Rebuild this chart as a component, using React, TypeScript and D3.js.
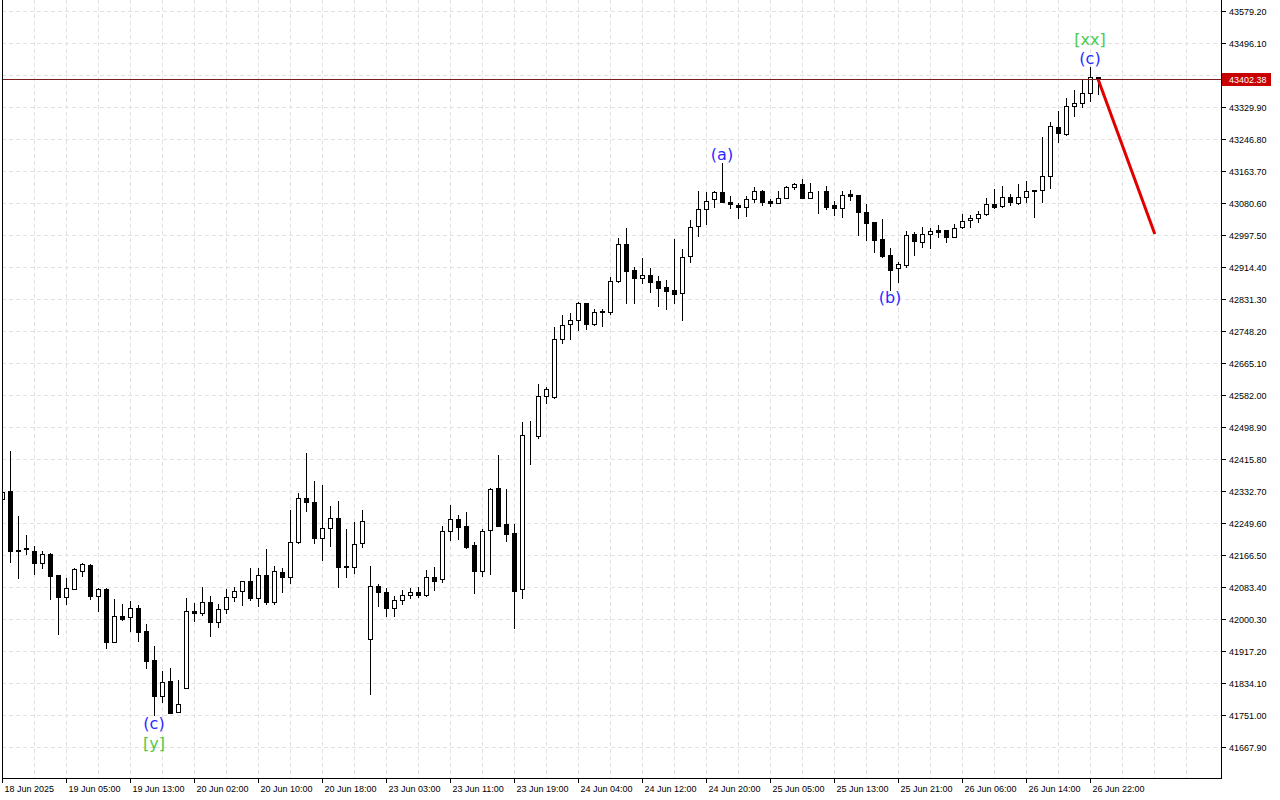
import React from "react";
import * as d3 from "d3";

// hourly bars, one label every 8 bars
const timeLabels = [
  "18 Jun 2025", "19 Jun 05:00", "19 Jun 13:00", "20 Jun 02:00", "20 Jun 10:00",
  "20 Jun 18:00", "23 Jun 03:00", "23 Jun 11:00", "23 Jun 19:00", "24 Jun 04:00",
  "24 Jun 12:00", "24 Jun 20:00", "25 Jun 05:00", "25 Jun 13:00", "25 Jun 21:00",
  "26 Jun 06:00", "26 Jun 14:00", "26 Jun 22:00",
];

const priceTicks = [
  41667.9, 41751.0, 41834.1, 41917.2, 42000.3, 42083.4, 42166.5, 42249.6,
  42332.7, 42415.8, 42498.9, 42582.0, 42665.1, 42748.2, 42831.3, 42914.4,
  42997.5, 43080.6, 43163.7, 43246.8, 43329.9, 43412.9, 43496.1, 43579.2,
];

const opens = [
  42311, 42333, 42179, 42185, 42177, 42145, 42170, 42115, 42057, 42078,
  42126, 42141, 42061, 42078, 41941, 42008, 42005, 42028, 41969, 41894,
  41801, 41839, 41760, 41822, 42021, 42015, 42044, 41992, 42025, 42058,
  42073, 42098, 42056, 42114, 42045, 42122, 42109, 42201, 42314, 42303,
  42210, 42236, 42262, 42137, 42135, 42197, 41948, 42085, 42071, 42028,
  42049, 42062, 42070, 42063, 42109, 42103, 42230, 42259, 42242, 42192,
  42126, 42231, 42340, 42247, 42223, 42077, 42478, 42475, 42580, 42576,
  42727, 42766, 42777, 42820, 42767, 42801, 42797, 42877, 42973, 42907,
  42885, 42894, 42878, 42862, 42855, 42846, 42942, 43021, 43064, 43090,
  43110, 43083, 43076, 43069, 43090, 43113, 43085, 43081, 43094, 43121,
  43129, 43094, 43109, 43112, 43075, 43067, 43104, 43101, 43056, 43030,
  42987, 42946, 42911, 42920, 42999, 42979, 42999, 43010, 43010, 42993,
  43018, 43036, 43041, 43051, 43077, 43072, 43097, 43080, 43095, 43114,
  43114, 43151, 43279, 43260, 43332, 43340, 43365, 43407,
];

const highs = [
  42338, 42437, 42268, 42218, 42190, 42177, 42172, 42115, 42106, 42132,
  42147, 42142, 42082, 42080, 42052, 42039, 42047, 42037, 41987, 41930,
  41865, 41872, 41842, 42054, 42041, 42083, 42060, 42038, 42078, 42083,
  42099, 42134, 42134, 42181, 42137, 42133, 42283, 42327, 42431, 42359,
  42348, 42294, 42307, 42234, 42251, 42283, 42138, 42090, 42080, 42060,
  42076, 42081, 42083, 42128, 42135, 42242, 42296, 42270, 42278, 42201,
  42234, 42340, 42426, 42338, 42246, 42511, 42514, 42611, 42604, 42758,
  42790, 42794, 42824, 42821, 42805, 42805, 42889, 42989, 43015, 42915,
  42937, 42911, 42891, 42881, 42987, 42961, 43036, 43112, 43108, 43111,
  43184, 43100, 43080, 43099, 43123, 43114, 43090, 43112, 43125, 43133,
  43142, 43132, 43113, 43125, 43087, 43113, 43114, 43102, 43078, 43031,
  43038, 42965, 42928, 43008, 43006, 43019, 43015, 43023, 43011, 43025,
  43052, 43049, 43060, 43093, 43117, 43125, 43103, 43129, 43139, 43115,
  43251, 43292, 43320, 43352, 43374, 43402, 43433, 43409,
];

const lows = [
  42307, 42148, 42108, 42170, 42118, 42134, 42052, 41962, 42039, 42077,
  42113, 42052, 42022, 41926, 41940, 41999, 41970, 41944, 41874, 41751,
  41786, 41755, 41759, 41821, 41996, 42011, 41957, 41980, 42015, 42048,
  42037, 42049, 42035, 42040, 42040, 42071, 42093, 42198, 42282, 42198,
  42154, 42191, 42084, 42109, 42119, 42186, 41805, 42035, 42009, 42009,
  42040, 42054, 42058, 42061, 42076, 42097, 42205, 42208, 42185, 42069,
  42113, 42117, 42242, 42204, 41976, 42054, 42402, 42470, 42562, 42575,
  42716, 42727, 42751, 42753, 42765, 42762, 42792, 42876, 42820, 42820,
  42874, 42850, 42814, 42805, 42821, 42778, 42928, 42994, 43027, 43071,
  43082, 43068, 43042, 43048, 43084, 43076, 43074, 43080, 43093, 43116,
  43093, 43093, 43054, 43064, 43049, 43045, 43088, 42998, 42985, 42954,
  42941, 42855, 42876, 42915, 42946, 42967, 42965, 42993, 42980, 42992,
  43015, 43018, 43030, 43050, 43068, 43071, 43075, 43078, 43082, 43045,
  43082, 43120, 43240, 43257, 43307, 43331, 43345, 43363,
];

const closes = [
  42331, 42177, 42176, 42181, 42145, 42169, 42113, 42058, 42080, 42130,
  42143, 42061, 42078, 41941, 42007, 42001, 42028, 41967, 41891, 41801,
  41836, 41757, 41780, 42021, 42015, 42044, 41992, 42025, 42058, 42073,
  42098, 42056, 42114, 42045, 42124, 42110, 42201, 42314, 42305, 42211,
  42236, 42262, 42136, 42135, 42194, 42254, 42085, 42071, 42028, 42049,
  42062, 42070, 42063, 42109, 42100, 42230, 42259, 42240, 42188, 42126,
  42228, 42338, 42243, 42222, 42074, 42478, 42477, 42579, 42598, 42727,
  42763, 42777, 42820, 42767, 42798, 42797, 42877, 42973, 42905, 42887,
  42894, 42876, 42859, 42853, 42844, 42940, 43018, 43064, 43087, 43110,
  43084, 43077, 43071, 43090, 43113, 43083, 43081, 43094, 43121, 43129,
  43094, 43108, 43108, 43071, 43067, 43101, 43100, 43056, 43029, 42985,
  42943, 42907, 42921, 42998, 42982, 42999, 43008, 43006, 42993, 43015,
  43034, 43041, 43051, 43077, 43071, 43097, 43084, 43095, 43112, 43112,
  43151, 43281, 43262, 43332, 43340, 43365, 43407, 43402.38,
];

const lastPrice = 43402.38;
// forecast: from the last bar down to about 43000, 7 bars ahead
const projection = { bar: 144.1, price: 43000 };

// wave marks: bar index, above/below the candle, stacking row
const waveLabels = [
  { text: "(c)", bar: 19, side: "below", row: 0, kind: "minor" },
  { text: "[y]", bar: 19, side: "below", row: 1, kind: "major" },
  { text: "(a)", bar: 90, side: "above", row: 0, kind: "minor" },
  { text: "(b)", bar: 111, side: "below", row: 0, kind: "minor" },
  { text: "(c)", bar: 136, side: "above", row: 0, kind: "minor" },
  { text: "[xx]", bar: 136, side: "above", row: 1, kind: "major" },
];

const width = 1280;
const height = 800;
const plotLeft = 2;
const plotRight = 1221;
const plotBottom = 778;
const axisFont = "'Liberation Sans', Arial, sans-serif";

const App: React.FC = () => {
  const x = d3.scaleLinear().domain([0, 137]).range([2, 1098]);
  const y = d3.scaleLinear().domain([41667.9, 43579.2]).range([747, 11]);

  const px = (v: number) => Math.round(v) + 0.5;

  // grid every 4 bars, labels every 8
  const vGrid = d3.range(0, 152, 4);
  const lastY = px(y(lastPrice));

  return (
    <svg
      width={width}
      height={height}
      style={{ position: "absolute", left: 0, top: 0, background: "#fff" }}
    >
      <rect x={0} y={0} width={width} height={height} fill="#fff" />

      {/* grid */}
      {priceTicks.map((t, i) => (
        <line
          key={"h" + i}
          x1={plotLeft}
          x2={plotRight}
          y1={px(y(t))}
          y2={px(y(t))}
          stroke="#e2e2e2"
          strokeDasharray="4,3"
        />
      ))}
      {vGrid.map((b) =>
        x(b) < plotRight ? (
          <line
            key={"v" + b}
            x1={px(x(b))}
            x2={px(x(b))}
            y1={0}
            y2={plotBottom}
            stroke="#e2e2e2"
            strokeDasharray="4,3"
          />
        ) : null
      )}

      {/* candles */}
      <defs>
        <clipPath id="plot">
          <rect x={plotLeft} y={0} width={plotRight - plotLeft} height={plotBottom} />
        </clipPath>
      </defs>
      <g clipPath="url(#plot)">
        {opens.map((o, i) => {
          const c = closes[i];
          const xc = Math.round(x(i));
          const top = Math.round(y(Math.max(o, c)));
          const bot = Math.round(y(Math.min(o, c)));
          const bull = c >= o;
          return (
            <g key={"c" + i}>
              <line
                x1={xc + 0.5}
                x2={xc + 0.5}
                y1={Math.round(y(highs[i]))}
                y2={Math.round(y(lows[i])) + 1}
                stroke="#000"
              />
              <rect
                x={xc - 1.5}
                y={top + 0.5}
                width={4}
                height={bot - top}
                fill={bull ? "#fff" : "#000"}
                stroke="#000"
              />
            </g>
          );
        })}
      </g>

      {/* last price line */}
      <line
        x1={plotLeft}
        x2={plotRight}
        y1={lastY}
        y2={lastY}
        stroke="#7a2020"
        strokeWidth={1}
      />

      {/* forecast */}
      <line
        x1={x(137)}
        y1={y(lastPrice)}
        x2={x(projection.bar)}
        y2={y(projection.price)}
        stroke="#e00000"
        strokeWidth={3}
      />

      {/* wave labels */}
      {waveLabels.map((w, i) => {
        const base = w.side === "above" ? y(highs[w.bar]) - 9 : y(lows[w.bar]) + 8;
        const yy = w.side === "above" ? base - w.row * 19 : base + w.row * 20;
        return (
          <text
            key={"w" + i}
            x={x(w.bar)}
            y={yy}
            textAnchor="middle"
            dominantBaseline="central"
            fontFamily="'DejaVu Sans', sans-serif"
            fontSize={16}
            fill={w.kind === "major" ? "#4cc94c" : "#2a2aff"}
          >
            {w.text}
          </text>
        );
      })}

      {/* frame */}
      <line x1={plotLeft + 0.5} x2={plotLeft + 0.5} y1={0} y2={plotBottom} stroke="#000" />
      <line x1={plotRight + 0.5} x2={plotRight + 0.5} y1={0} y2={plotBottom + 1} stroke="#000" />
      <line x1={plotLeft} x2={plotRight + 1} y1={plotBottom + 0.5} y2={plotBottom + 0.5} stroke="#000" />

      {/* right axis; the tick hidden under the price box is skipped */}
      {priceTicks.map((t, i) => {
        const ty = px(y(t));
        const hidden = Math.abs(ty - lastY) < 10;
        return (
          <g key={"pt" + i}>
            <line
              x1={plotRight + 1}
              x2={plotRight + 5}
              y1={ty}
              y2={ty}
              stroke="#000"
            />
            {!hidden && (
              <text
                x={plotRight + 8}
                y={ty + 3}
                fontFamily={axisFont}
                fontSize={9}
                fill="#000"
              >
                {t.toFixed(2)}
              </text>
            )}
          </g>
        );
      })}
      <rect
        x={plotRight + 1}
        y={lastY - 6.5}
        width={49}
        height={13}
        fill="#c80000"
      />
      <text
        x={plotRight + 8}
        y={lastY + 3}
        fontFamily={axisFont}
        fontSize={9}
        fill="#fff"
      >
        {lastPrice.toFixed(2)}
      </text>

      {/* time axis */}
      {timeLabels.map((t, i) => {
        const xx = px(x(i * 8));
        return (
          <g key={"tl" + i}>
            <line x1={xx} x2={xx} y1={plotBottom} y2={plotBottom + 5} stroke="#000" />
            <text
              x={xx + 2}
              y={792}
              fontFamily={axisFont}
              fontSize={9}
              fill="#000"
            >
              {t}
            </text>
          </g>
        );
      })}
    </svg>
  );
};

export default App;
